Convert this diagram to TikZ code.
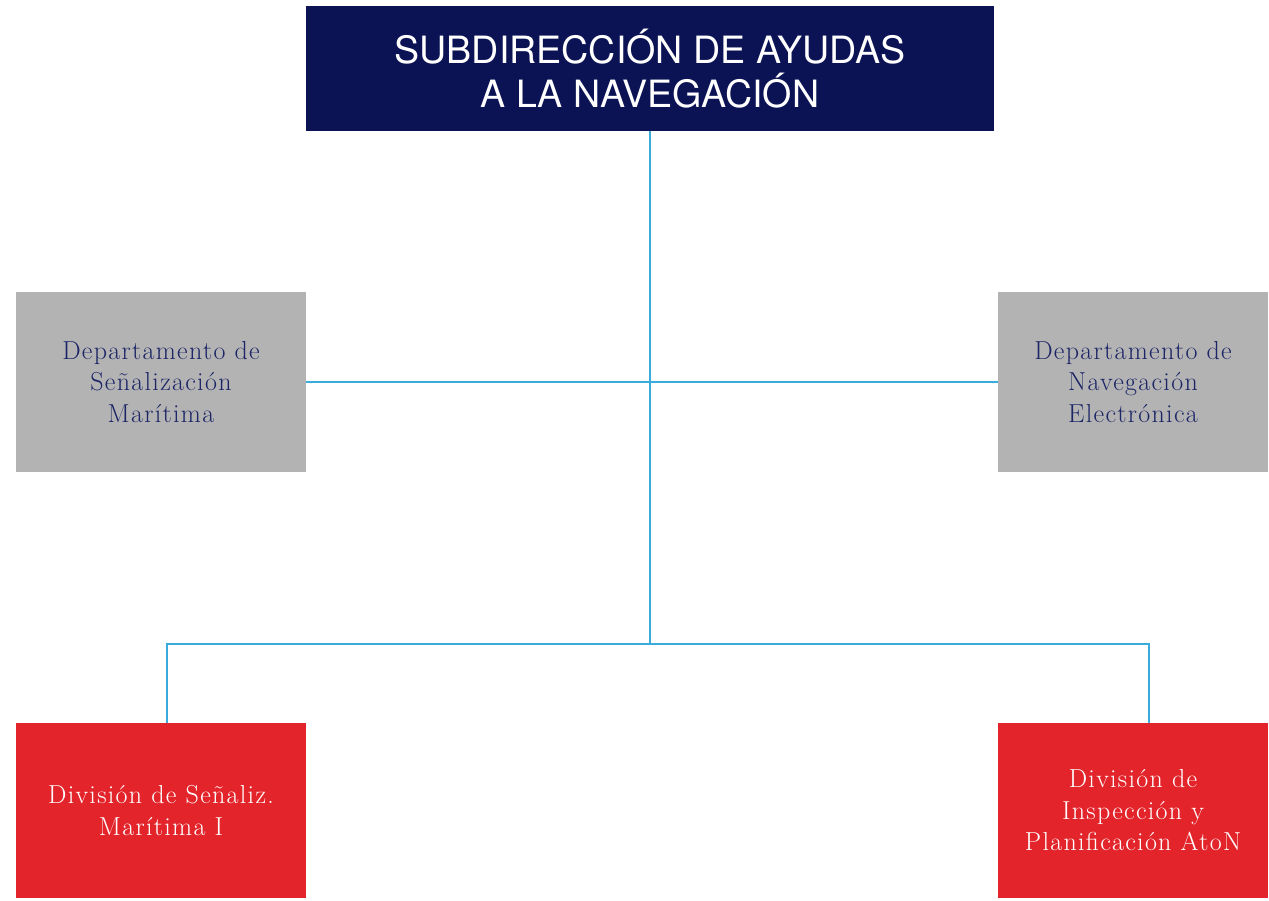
\documentclass[tikz,border=0pt]{standalone}
\usepackage{fontspec}
\setsansfont{TeX Gyre Heros}
\newfontfamily\orgserif{Latin Modern Roman}[LetterSpace=5]
\usepackage{tikz}

\definecolor{navy}{HTML}{0B1354}
\definecolor{deptgray}{HTML}{B3B3B3}
\definecolor{deptred}{HTML}{E3242B}
\definecolor{linkblue}{HTML}{3AACDB}
\definecolor{deptnavy}{HTML}{1C2566}

\begin{document}
\begin{tikzpicture}[x=1pt,y=-1pt,
	topbox/.style={fill=navy, text=white, minimum width=688pt, minimum height=125pt, align=center, font=\sffamily\fontsize{37.6}{44}\selectfont},
	deptbox/.style={fill=deptgray, text=deptnavy, minimum height=180pt, align=center, font=\orgserif\fontsize{26}{31.5}\selectfont},
	divbox/.style={fill=deptred, text=white, minimum height=175pt, align=center, font=\orgserif\fontsize{26}{31.5}\selectfont},
	link/.style={draw=linkblue, line width=2.5pt}]
	\useasboundingbox (0,0) rectangle (1269,900);

	\node (s1) [topbox] at (650,68.5) {SUBDIRECCIÓN DE AYUDAS\\A LA NAVEGACIÓN};

	\node (d1) [deptbox, minimum width=290pt] at (161,382) {Departamento de\\Señalización\\Marítima};
	\node (d2) [deptbox, minimum width=270pt] at (1133,382) {Departamento de\\Navegación\\Electrónica};

	\node (v1) [divbox, minimum width=290pt] at (161,810.5) {División de Señaliz.\\Marítima I};
	\node (v2) [divbox, minimum width=270pt] at (1133,810.5) {División de\\Inspección y\\Planificación AtoN};

	\coordinate (j) at (650,644);

	\draw [link] (s1.south) -- (j);
	\draw [link] (d1.east) -- (d2.west);
	\draw [link] ([xshift=6pt]v1.north) |- (j) -| ([xshift=16pt]v2.north);
\end{tikzpicture}
\end{document}
